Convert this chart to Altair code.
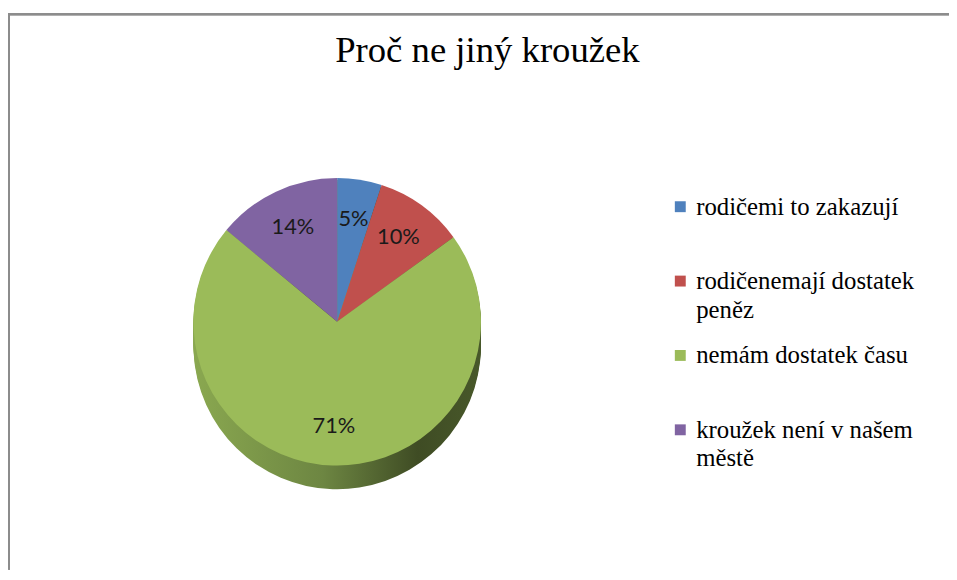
import altair as alt
import pandas as pd

# ---- data ----
categories = [
    "rodičemi to zakazují",
    "rodičenemají dostatek peněz",
    "nemám dostatek času",
    "kroužek není v našem městě",
]
legend_lines = [
    ["rodičemi to zakazují"],
    ["rodičenemají dostatek", "peněz"],
    ["nemám dostatek času"],
    ["kroužek není v našem", "městě"],
]
shares = [5, 10, 71, 14]
colors = ["#4F81BD", "#C0504D", "#9BBB59", "#8064A2"]
title_text = "Proč ne jiný kroužek"

df = pd.DataFrame({
    "category": categories,
    "value": shares,
    "idx": list(range(len(categories))),
    "legend": ["\n".join(l) for l in legend_lines],
})

# ---- layout (style only) ----
W, H = 949, 561
CX, CY = 332, 311
R = 145
DEPTH = 24

color_scale = alt.Scale(domain=categories, range=colors)
theta = alt.Theta("value:Q", stack=True)
order = alt.Order("idx:Q")

side_grad = alt.Gradient(
    gradient="linear", x1=0, y1=0, x2=1, y2=0,
    stops=[
        alt.GradientStop(color="#8aa850", offset=0),
        alt.GradientStop(color="#6d8642", offset=0.45),
        alt.GradientStop(color="#3f4c24", offset=0.78),
        alt.GradientStop(color="#48582a", offset=1),
    ],
)

base = alt.Chart(df)

layers = []
for k in range(DEPTH, 0, -2):
    layers.append(
        base.mark_arc(outerRadius=R, fill=side_grad).encode(
            theta=theta, order=order,
            x=alt.value(CX), y=alt.value(CY + k),
        )
    )

top = base.mark_arc(outerRadius=R).encode(
    theta=theta, order=order,
    color=alt.Color("category:N", scale=color_scale, legend=None),
    x=alt.value(CX), y=alt.value(CY),
)

labels = base.transform_calculate(
    lab="datum.value + '%'"
).mark_text(font="Lato", fontSize=22, color="#1a1a1a", radius=105).encode(
    theta=theta, order=order, text="lab:N",
    x=alt.value(CX), y=alt.value(CY),
)

ypos = alt.Y("category:N", sort=categories,
             scale=alt.Scale(type="point", range=[195, 420], padding=0),
             axis=None)

leg_sym = base.mark_square(size=121, opacity=1).encode(
    x=alt.value(678), y=ypos,
    color=alt.Color("category:N", scale=color_scale, legend=None),
)
leg_txt = base.mark_text(
    align="left", baseline="alphabetic", dy=8, lineBreak="\n",
    lineHeight=29, font="Liberation Serif, Times New Roman, serif",
    fontSize=25, color="black",
).encode(x=alt.value(694), y=ypos, text="legend:N")

border_top = base.mark_rule(color="#8c8c8c", strokeWidth=2).encode(
    x=alt.value(0), x2=alt.value(W), y=alt.value(1)
)
border_left = base.mark_rule(color="#8c8c8c", strokeWidth=2).encode(
    x=alt.value(1), y=alt.value(0), y2=alt.value(H)
)

chart = alt.layer(
    *layers, top, labels, leg_sym, leg_txt, border_top, border_left
).resolve_scale(y="independent").properties(
    width=W, height=H,
    autosize=alt.AutoSizeParams(type="none"),
    padding={"left": 0, "top": 3, "right": 0, "bottom": 0},
    title=alt.TitleParams(
        title_text, font="Liberation Serif", fontSize=37, fontWeight="normal",
        color="black", anchor="middle", baseline="alphabetic", offset=-54,
        dx=9, dy=33,
    ),
).configure_view(stroke=None)

chart.save("out.html", embed_options={"renderer": "svg", "actions": False})
